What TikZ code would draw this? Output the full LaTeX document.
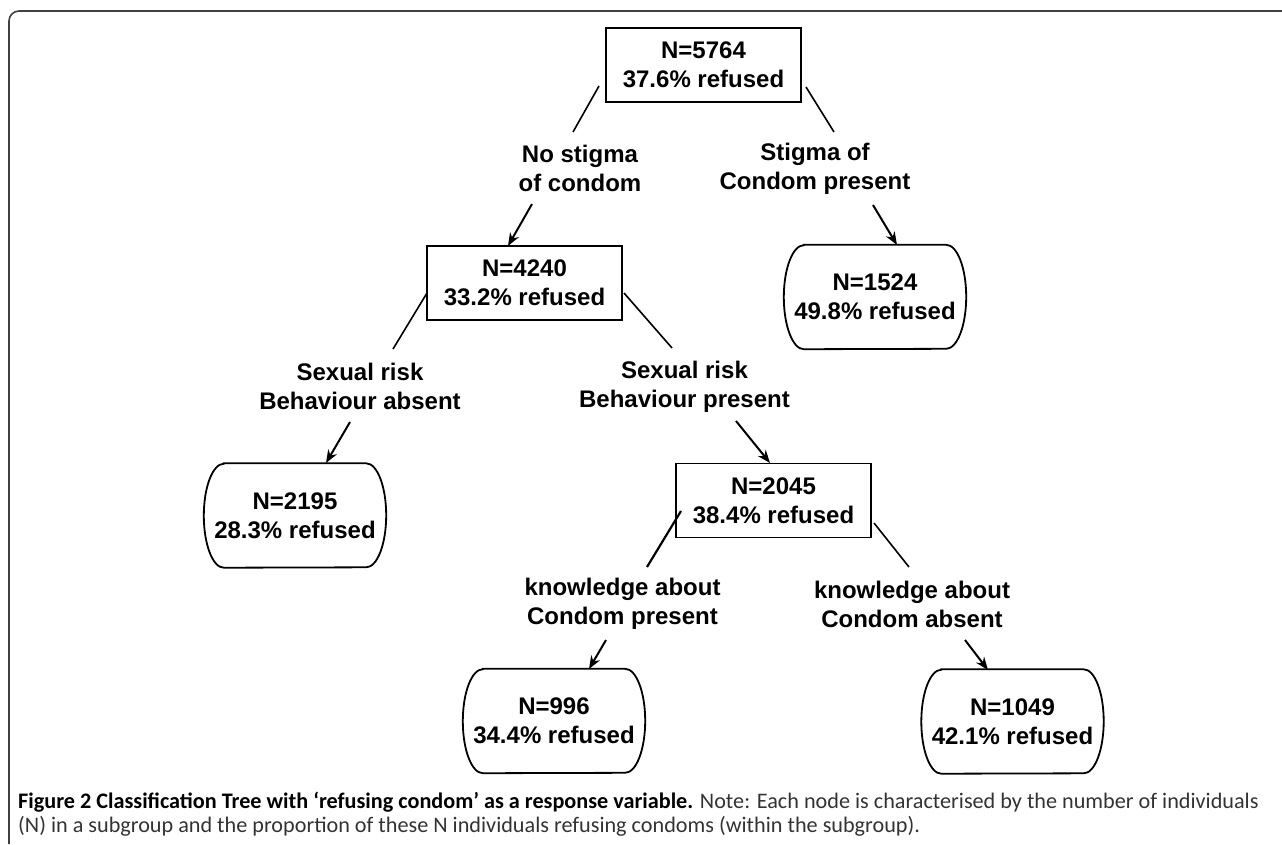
\documentclass[tikz,border=0pt]{standalone}
\usepackage{fontspec}
\setmainfont{Liberation Sans}
\newfontfamily\capfont{Carlito}
\usetikzlibrary{arrows.meta}
\newcommand\leafoutline[1]{\draw[leafline] ([xshift=20pt]#1.north west) -- ([xshift=-20pt]#1.north east) arc[start angle=90,end angle=-90,x radius=20pt,y radius=52pt] -- ([xshift=20pt]#1.south west) arc[start angle=270,end angle=90,x radius=20pt,y radius=52pt] -- cycle;}
\begin{document}
\begin{tikzpicture}[x=1pt,y=-1pt,
  box/.style={draw, line width=1.8pt, minimum width=195pt, minimum height=74pt, inner sep=0pt, align=center, font=\fontsize{24}{29}\selectfont\bfseries},
  leaf/.style={minimum width=182pt, minimum height=104pt, inner sep=0pt, align=center, font=\fontsize{24}{29}\selectfont\bfseries},
  lab/.style={align=center, inner sep=0pt, font=\fontsize{24}{29}\selectfont\bfseries},
  edge/.style={line width=1.6pt},
  arr/.style={line width=2pt, -{Stealth[length=13pt,width=10pt]}},
  leafline/.style={line width=1.8pt},
  frame/.style={line width=1.6pt, black!75, rounded corners=10pt}
]
\useasboundingbox (0,0) rectangle (1282,844);
\draw[frame] (1282,11) -- (9,11) -- (9,844);

% nodes
\node[box] (root) at (703.5,65) {N=5764\\37.6\% refused};
\node[box] (n4240) at (524.5,283) {N=4240\\33.2\% refused};
\node[box] (n2045) at (773.5,500.5) {N=2045\\38.4\% refused};
\node[leaf] (l1524) at (875,297) {N=1524\\49.8\% refused};
\node[leaf] (l2195) at (295,515.5) {N=2195\\28.3\% refused};
\node[leaf] (l996) at (554,721) {N=996\\34.4\% refused};
\node[leaf] (l1049) at (1012.5,721.5) {N=1049\\42.1\% refused};
\leafoutline{l1524}
\leafoutline{l2195}
\leafoutline{l996}
\leafoutline{l1049}

% labels
\node[lab] (lab1) at (580,168.5) {No stigma\\of condom};
\node[lab] (lab2) at (815,168.5) {Stigma of\\Condom present};
\node[lab] (lab3) at (360,386.5) {Sexual risk\\Behaviour absent};
\node[lab] (lab4) at (684.5,386.5) {Sexual risk\\Behaviour present};
\node[lab] (lab5) at (622.5,604) {knowledge about\\Condom present};
\node[lab] (lab6) at (912,604) {knowledge about\\Condom absent};

% connector end points
\coordinate (r1a) at (599,86);  \coordinate (r1b) at (573,132);
\coordinate (r2a) at (806,87);  \coordinate (r2b) at (834,132);
\coordinate (a1a) at (532,204); \coordinate (a1b) at (508,246);
\coordinate (a2a) at (873,205); \coordinate (a2b) at (897,245);
\coordinate (m1a) at (427,293); \coordinate (m1b) at (393,349);
\coordinate (m2a) at (624,293); \coordinate (m2b) at (672,348);
\coordinate (a3a) at (350,422); \coordinate (a3b) at (326,463);
\coordinate (a4a) at (736,421); \coordinate (a4b) at (770,463);
\coordinate (k1a) at (681,511); \coordinate (k1b) at (647,567);
\coordinate (k2a) at (874,523); \coordinate (k2b) at (909,567);
\coordinate (a5a) at (606,640); \coordinate (a5b) at (589,669);
\coordinate (a6a) at (965,640); \coordinate (a6b) at (988,670);

\draw[edge] (r1a) -- (r1b);
\draw[edge] (r2a) -- (r2b);
\draw[arr] (a1a) -- (a1b);
\draw[arr] (a2a) -- (a2b);
\draw[edge] (m1a) -- (m1b);
\draw[edge] (m2a) -- (m2b);
\draw[arr] (a3a) -- (a3b);
\draw[arr] (a4a) -- (a4b);
\draw[edge, line width=2.2pt] (k1a) -- (k1b);
\draw[edge] (k2a) -- (k2b);
\draw[arr] (a5a) -- (a5b);
\draw[arr] (a6a) -- (a6b);

% caption
\node[anchor=west, align=left, inner sep=0pt, font=\capfont\fontsize{22.2}{24}\selectfont, text=black!80] (cap) at (18,814)
 {\textbf{\color{black}Figure 2 Classification Tree with ‘refusing condom’ as a response variable.} Note: Each node is characterised by the number of individuals\\(N) in a subgroup and the proportion of these N individuals refusing condoms (within the subgroup).};
\end{tikzpicture}
\end{document}
